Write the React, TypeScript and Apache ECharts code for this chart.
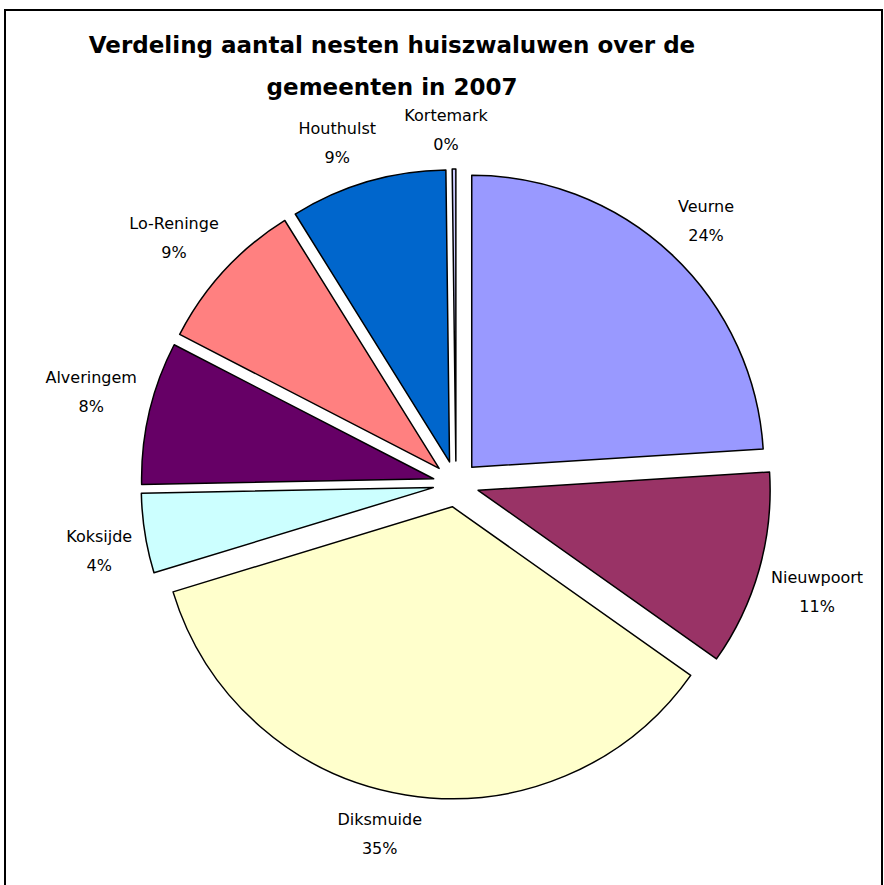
import React, { useEffect, useRef } from "react";
import * as echarts from "echarts";

// Data (share of nests per municipality, %)
const municipalities = [
  "Veurne",
  "Nieuwpoort",
  "Diksmuide",
  "Koksijde",
  "Alveringem",
  "Lo-Reninge",
  "Houthulst",
  "Kortemark",
];
const shares = [24.0, 10.8, 35.49, 4.4, 7.9, 8.55, 8.66, 0.2];
const sliceColors = [
  "#9999FF",
  "#993366",
  "#FFFFCC",
  "#CCFFFF",
  "#660066",
  "#FF8080",
  "#0066CC",
  "#CCCCFF",
];
const titleLines = ["Verdeling aantal nesten huiszwaluwen over de", "gemeenten in 2007"];

const FONT = '"DejaVu Sans", sans-serif';
const CX = 456;
const CY = 484;
const RADIUS = 292;
const EXPLODE = 23;
const LABEL_GAP = 8;

export default function App() {
  const ref = useRef<HTMLDivElement>(null);

  useEffect(() => {
    document.body.style.margin = "0";
    const chart = echarts.init(ref.current!, null, { renderer: "svg" });

    const total = shares.reduce((a, b) => a + b, 0);
    const midFractions: number[] = [];
    let acc = 0;
    shares.forEach((v) => {
      midFractions.push((acc + v / 2) / total);
      acc += v;
    });

    const pieData = municipalities.map((name, i) => ({
      name,
      value: shares[i],
      selected: true,
      itemStyle: { color: sliceColors[i] },
    }));
    const labelData = municipalities.map((name, i) => ({
      name,
      value: shares[i],
    }));

    const soft = (s: number) => Math.sign(s) * Math.pow(Math.abs(s), 0.35);

    chart.setOption({
      animation: false,
      backgroundColor: "#ffffff",
      graphic: [
        {
          type: "rect",
          silent: true,
          shape: { x: 5, y: 10, width: 877, height: 900 },
          style: { fill: "none", stroke: "#000", lineWidth: 2 },
        },
        {
          type: "text",
          silent: true,
          x: 392,
          y: 45,
          style: {
            text: titleLines[0],
            fontSize: 23,
            fontWeight: "bold",
            fontFamily: FONT,
            align: "center",
            verticalAlign: "middle",
            fill: "#000",
          },
        },
        {
          type: "text",
          silent: true,
          x: 392,
          y: 87,
          style: {
            text: titleLines[1],
            fontSize: 23,
            fontWeight: "bold",
            fontFamily: FONT,
            align: "center",
            verticalAlign: "middle",
            fill: "#000",
          },
        },
      ],
      series: [
        {
          type: "pie",
          center: [CX, CY],
          radius: [0, RADIUS],
          startAngle: 90,
          clockwise: true,
          selectedMode: "multiple",
          selectedOffset: EXPLODE,
          data: pieData,
          label: { show: false },
          labelLine: { show: false },
          itemStyle: { borderColor: "#000", borderWidth: 1.5 },
          select: { itemStyle: { borderColor: "#000", borderWidth: 1.5 } },
          emphasis: { disabled: true },
        },
        {
          type: "pie",
          silent: true,
          center: [CX, CY],
          radius: [363, 383],
          startAngle: 90,
          clockwise: true,
          percentPrecision: 0,
          data: labelData,
          itemStyle: { color: "rgba(0,0,0,0)", borderWidth: 0 },
          label: {
            show: true,
            position: "inside",
            formatter: "{b}\n{d}%",
            fontSize: 16,
            fontFamily: FONT,
            lineHeight: 29,
            color: "#000",
            align: "center",
          },
          labelLine: { show: false },
          emphasis: { disabled: true },
          labelLayout: (params: any) => {
            const idx = params.dataIndex;
            const theta = midFractions[idx] * Math.PI * 2;
            const dx = Math.sin(theta);
            const dy = -Math.cos(theta);
            const ax = CX + (EXPLODE + RADIUS + LABEL_GAP) * dx;
            const ay = CY + (EXPLODE + RADIUS + LABEL_GAP) * dy;
            const w2 = params.labelRect.width / 2 + 5;
            const h2 = params.labelRect.height / 2 + 2;
            return {
              x: ax + w2 * soft(dx),
              y: ay + h2 * soft(dy),
              align: "center",
              verticalAlign: "middle",
            };
          },
        },
      ],
    });

    return () => chart.dispose();
  }, []);

  return <div ref={ref} style={{ width: 884, height: 885 }} />;
}
